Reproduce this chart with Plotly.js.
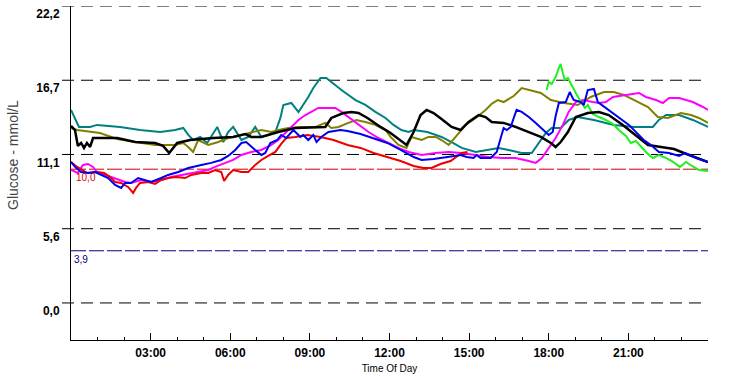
<!DOCTYPE html>
<html>
<head>
<meta charset="utf-8">
<script src="https://cdn.plot.ly/plotly-3.0.1.min.js"></script>
<style>html,body{margin:0;padding:0;background:#fff;}#chart{width:735px;height:377px;}</style>
</head>
<body>
<div id="chart"></div>
<script>
// Time of day in hours, glucose in mmol/L
const tealT = [0,0.15,0.30,0.72,0.98,1.85,2.60,3.36,3.92,4.23,4.42,4.60,4.87,5.13,5.32,5.51,5.74,5.92,6.11,6.42,6.68,6.94,7.17,7.43,7.70,7.89,8.00,8.30,8.57,8.75,8.94,9.13,9.40,9.62,9.81,10.19,10.72,11.09,11.47,11.85,12.15,12.45,12.72,12.91,13.43,13.96,14.34,14.72,15.25,15.62,16.11,16.49,16.98,17.36,17.62,17.89,18.11,18.45,18.75,19.09,19.70,20.45,21.21,21.92,22.15,22.42,22.91,23.43,24.00];
const tealV = [14.43,13.83,13.16,13.16,13.31,13.16,12.93,12.78,12.93,13.08,12.56,12.18,12.41,11.96,12.56,13.16,12.03,12.78,13.16,12.18,12.41,13.16,12.41,12.56,12.78,13.83,14.80,14.95,14.28,14.80,15.40,16.07,16.82,16.82,16.52,15.92,15.17,14.80,14.28,13.83,13.31,12.93,12.78,12.93,12.78,12.41,12.03,11.59,11.29,11.44,11.59,11.44,11.21,11.21,11.96,12.71,13.08,13.08,13.68,13.90,13.68,13.31,13.16,13.16,13.68,14.05,14.05,13.68,13.16];

const oliveT = [0,0.23,1.09,1.74,2.42,3.17,3.92,4.23,4.42,4.60,4.79,5.17,5.55,5.92,6.42,6.94,7.17,7.55,7.81,8.19,8.68,9.21,9.58,9.81,10.08,10.45,10.75,11.09,11.47,11.85,12.04,12.34,12.64,12.83,13.21,13.47,13.74,13.96,14.23,14.49,14.87,15.25,15.62,15.85,16.08,16.30,16.68,16.98,17.32,17.70,18.08,18.57,19.09,19.58,20.08,20.45,20.83,21.36,21.74,22.11,22.49,22.98,23.36,23.66,24.00];
const oliveV = [13.08,12.93,12.71,12.26,12.03,11.81,11.81,11.96,11.66,11.29,12.18,11.81,12.03,12.33,12.56,12.78,12.93,12.78,12.93,13.08,13.16,13.16,13.46,13.08,13.16,13.46,13.68,13.53,13.31,12.93,12.41,11.81,11.59,12.41,12.18,12.41,12.41,12.18,11.81,12.41,13.31,13.83,14.43,14.88,15.17,15.02,15.47,16.07,15.92,15.70,15.17,14.95,14.80,15.40,15.77,15.77,15.55,15.02,14.65,13.90,13.83,14.20,14.05,13.83,13.46];

const magentaT = [0,0.26,0.45,0.64,0.83,0.98,1.51,2.04,2.26,2.64,3.02,3.40,3.77,4.15,4.68,5.17,5.43,5.81,6.11,6.42,6.79,7.17,7.55,7.81,8.08,8.30,8.57,8.83,9.06,9.32,9.70,9.96,10.19,10.45,10.72,10.94,11.21,11.58,11.96,12.34,12.72,13.21,13.74,14.23,14.72,15.25,15.74,16.23,16.75,17.25,17.51,17.74,18.00,18.26,18.53,18.75,19.02,19.28,19.66,19.89,20.15,20.42,20.91,21.40,21.66,22.04,22.30,22.53,22.91,23.43,23.81,24.00];
const magentaV = [9.94,9.72,10.32,10.39,10.17,9.79,9.42,9.04,8.97,9.19,9.04,9.19,9.42,9.57,9.79,9.94,10.17,10.47,10.69,11.06,11.29,11.44,11.81,12.18,12.71,13.16,13.68,14.05,14.28,14.58,14.58,14.58,14.28,13.90,13.53,13.16,12.78,12.33,11.96,11.59,11.29,11.06,11.21,11.29,11.21,11.06,10.91,10.84,10.84,10.61,10.47,10.84,11.59,12.33,13.31,14.28,15.02,15.17,15.02,14.95,15.02,15.40,15.55,15.70,15.40,15.17,14.95,15.32,15.32,15.02,14.65,14.43];

const blueT = [0,0.15,0.38,0.64,0.91,1.13,1.40,1.66,1.89,2.04,2.26,2.53,2.79,3.02,3.40,3.66,4.04,4.42,4.91,5.28,5.66,5.92,6.19,6.42,6.60,6.79,6.94,7.17,7.32,7.51,7.77,7.92,8.11,8.38,8.64,8.75,8.94,9.13,9.25,9.43,9.70,10.15,10.42,10.91,11.40,11.92,12.42,12.91,13.21,13.66,14.19,14.68,14.91,15.17,15.28,15.43,15.81,16.04,16.19,16.30,16.42,16.57,16.68,16.79,16.98,17.25,17.51,17.81,18.00,18.15,18.26,18.38,18.64,18.79,18.94,19.21,19.32,19.47,19.70,19.85,20.15,20.53,21.02,21.58,21.85,22.15,22.53,22.91,23.13,23.55,24.00];
const blueV = [10.54,10.17,9.79,9.72,9.79,9.57,9.34,8.82,8.60,8.97,8.97,9.34,9.19,9.04,9.34,9.57,9.79,10.09,10.32,10.47,10.69,10.99,11.44,11.96,12.03,11.66,11.44,11.06,11.21,11.96,12.18,12.56,12.33,12.93,12.41,12.56,12.18,12.56,12.03,12.41,12.78,12.93,12.86,12.63,12.33,11.96,11.44,10.91,10.69,10.76,10.91,11.06,10.91,10.84,11.06,10.84,10.84,11.29,12.33,13.08,12.93,13.16,13.83,14.43,14.28,13.90,13.46,12.93,12.56,12.78,13.98,14.95,15.02,15.77,15.17,15.02,14.80,15.92,16.00,15.02,14.58,13.98,13.31,12.18,11.81,11.29,11.21,10.99,11.21,10.84,10.54];

const redT = [0,0.23,0.60,0.98,1.25,1.47,1.66,1.89,2.15,2.34,2.45,2.60,2.91,3.17,3.40,3.66,3.96,4.30,4.53,4.91,5.17,5.43,5.66,5.77,5.92,6.11,6.42,6.68,6.94,7.17,7.43,7.70,7.92,8.11,8.45,8.91,9.40,9.89,10.42,10.91,11.40,11.92,12.42,12.91,13.28,13.58,13.92,14.30,14.72,14.94];
const redV = [10.54,10.17,9.72,9.79,9.72,9.42,9.04,8.97,8.67,8.22,8.60,8.97,9.04,8.90,9.19,9.34,9.42,9.34,9.57,9.72,9.72,9.94,9.79,9.12,9.57,9.94,9.79,9.79,10.32,10.69,10.99,11.29,11.89,12.33,12.41,12.56,12.41,12.18,11.81,11.59,11.21,10.91,10.61,10.24,10.09,10.09,10.39,10.61,11.21,11.29];

const greenT = [17.92,18.00,18.11,18.26,18.38,18.45,18.53,18.60,18.72,18.83,19.02,19.17,19.36,19.47,19.66,19.89,20.15,20.42,20.64,20.91,21.09,21.28,21.51,21.70,21.92,22.15,22.42,22.68,22.94,23.17,23.40,23.66,24.00];
const greenV = [15.92,16.52,16.37,16.89,17.57,17.87,17.19,16.67,16.82,16.37,15.70,15.17,14.58,14.80,14.13,13.90,13.68,13.38,12.93,12.48,11.96,12.11,11.59,11.21,10.84,11.06,10.84,10.54,10.17,10.54,10.24,9.94,9.87];

const blackT = [0,0.15,0.26,0.38,0.49,0.60,0.72,0.83,1.13,1.74,2.42,3.17,3.47,3.70,4.00,4.49,5.36,6.11,6.57,6.79,7.17,7.81,8.45,9.21,9.58,9.81,10.26,10.57,10.83,11.17,11.66,12.04,12.42,12.64,12.91,13.17,13.40,13.66,13.96,14.34,14.68,14.98,15.36,15.62,15.85,16.30,16.75,17.25,17.70,18.08,18.26,18.45,18.72,19.02,19.47,19.89,20.26,20.79,21.28,21.74,22.23,22.72,23.09,23.47,24.00];
const blackV = [13.23,12.93,11.74,11.96,11.59,11.96,11.66,12.33,12.33,12.33,12.03,11.96,11.74,11.21,11.96,12.18,12.33,12.41,12.63,12.41,12.41,12.78,13.08,13.16,13.16,13.83,14.20,14.28,14.20,13.83,13.16,12.71,12.18,11.81,12.78,14.05,14.43,14.20,13.75,13.16,12.93,13.53,14.05,13.90,13.53,13.46,13.16,12.78,12.41,11.96,11.66,12.03,12.78,13.90,14.20,14.28,14.05,13.31,12.56,11.81,11.66,11.51,11.21,10.91,10.54];

const gridVals = [0, 5.55, 11.1, 16.65, 22.2];
const gridText = ['0,0', '5,6', '11,1', '16,7', '22,2'];
const xTickVals = [3, 6, 9, 12, 15, 18, 21];
const xTickText = ['03:00', '06:00', '09:00', '12:00', '15:00', '18:00', '21:00'];
const highLimit = 10.0, highLabel = '10,0';
const lowLimit = 3.9, lowLabel = '3,9';

function tr(x, y, color, w) {
  return {x: x, y: y, type: 'scatter', mode: 'lines', line: {color: color, width: w}, hoverinfo: 'skip', showlegend: false};
}
const data = [
  tr(tealT, tealV, '#008080', 2),
  tr(oliveT, oliveV, '#808000', 2),
  tr(magentaT, magentaV, '#ff00ff', 2),
  tr(redT, redV, '#ee0000', 2),
  tr(greenT, greenV, '#22ee22', 2),
  tr(blackT, blackV, '#000000', 2.5),
  tr(blueT, blueV, '#0000ee', 2)
];

const shapes = gridVals.map(v => ({
  type: 'line', xref: 'paper', yref: 'y', x0: -9/637, x1: 1, y0: v, y1: v,
  line: {color: '#000', width: 1, dash: '12px,7px'}, layer: 'below'
}));
shapes.push({type: 'line', xref: 'paper', yref: 'y', x0: 0, x1: 1, y0: highLimit, y1: highLimit,
  line: {color: '#cc0000', width: 1, dash: '15px,3px'}, layer: 'below'});
shapes.push({type: 'line', xref: 'paper', yref: 'y', x0: 0, x1: 1, y0: lowLimit, y1: lowLimit,
  line: {color: '#000080', width: 1, dash: '15px,3px'}, layer: 'below'});

const tickFont = {family: 'Liberation Sans, Arial, sans-serif', size: 12, color: '#000', weight: 'bold'};

const layout = {
  width: 735, height: 377,
  margin: {l: 71, r: 27, t: 6, b: 37, pad: 0},
  paper_bgcolor: '#fff', plot_bgcolor: '#fff',
  xaxis: {
    range: [0, 24], showgrid: false, zeroline: false,
    showline: true, linecolor: '#000', linewidth: 1,
    tickmode: 'array', tickvals: xTickVals, ticktext: xTickText,
    ticks: 'inside', ticklen: 7, tickcolor: '#000', tickwidth: 1,
    minor: {dtick: 1, tick0: 0, ticks: 'inside', ticklen: 3, tickcolor: '#000', showgrid: false},
    tickfont: tickFont, ticklabelstandoff: 2,
    title: {text: 'Time Of Day', font: {family: 'Liberation Sans, Arial, sans-serif', size: 10, color: '#000'}, standoff: 5}
  },
  yaxis: {
    range: [-2.77, 22.2], showgrid: false, zeroline: false,
    showline: true, linecolor: '#000', linewidth: 1,
    tickmode: 'array', tickvals: gridVals, ticktext: gridText,
    ticks: '', tickfont: tickFont, ticklabelshift: 8, ticklabelstandoff: 8
  },
  shapes: shapes,
  annotations: [
    {xref: 'paper', yref: 'paper', x: -71/637, y: 0.554, xanchor: 'left', yanchor: 'middle', xshift: 3,
     text: 'Glucose - mmol/L', textangle: -90, showarrow: false,
     font: {family: 'Liberation Sans, Arial, sans-serif', size: 14, color: '#444'}},
    {xref: 'paper', yref: 'y', x: 0, y: highLimit, xanchor: 'left', yanchor: 'top', xshift: 3, yshift: -1,
     text: highLabel, showarrow: false, font: {family: 'Liberation Sans, Arial, sans-serif', size: 10, color: '#dd0000'}},
    {xref: 'paper', yref: 'y', x: 0, y: lowLimit, xanchor: 'left', yanchor: 'top', xshift: 1, yshift: -1,
     text: lowLabel, showarrow: false, font: {family: 'Liberation Sans, Arial, sans-serif', size: 10, color: '#000080'}}
  ]
};

Plotly.newPlot('chart', data, layout, {staticPlot: true, displayModeBar: false});
</script>
</body>
</html>
